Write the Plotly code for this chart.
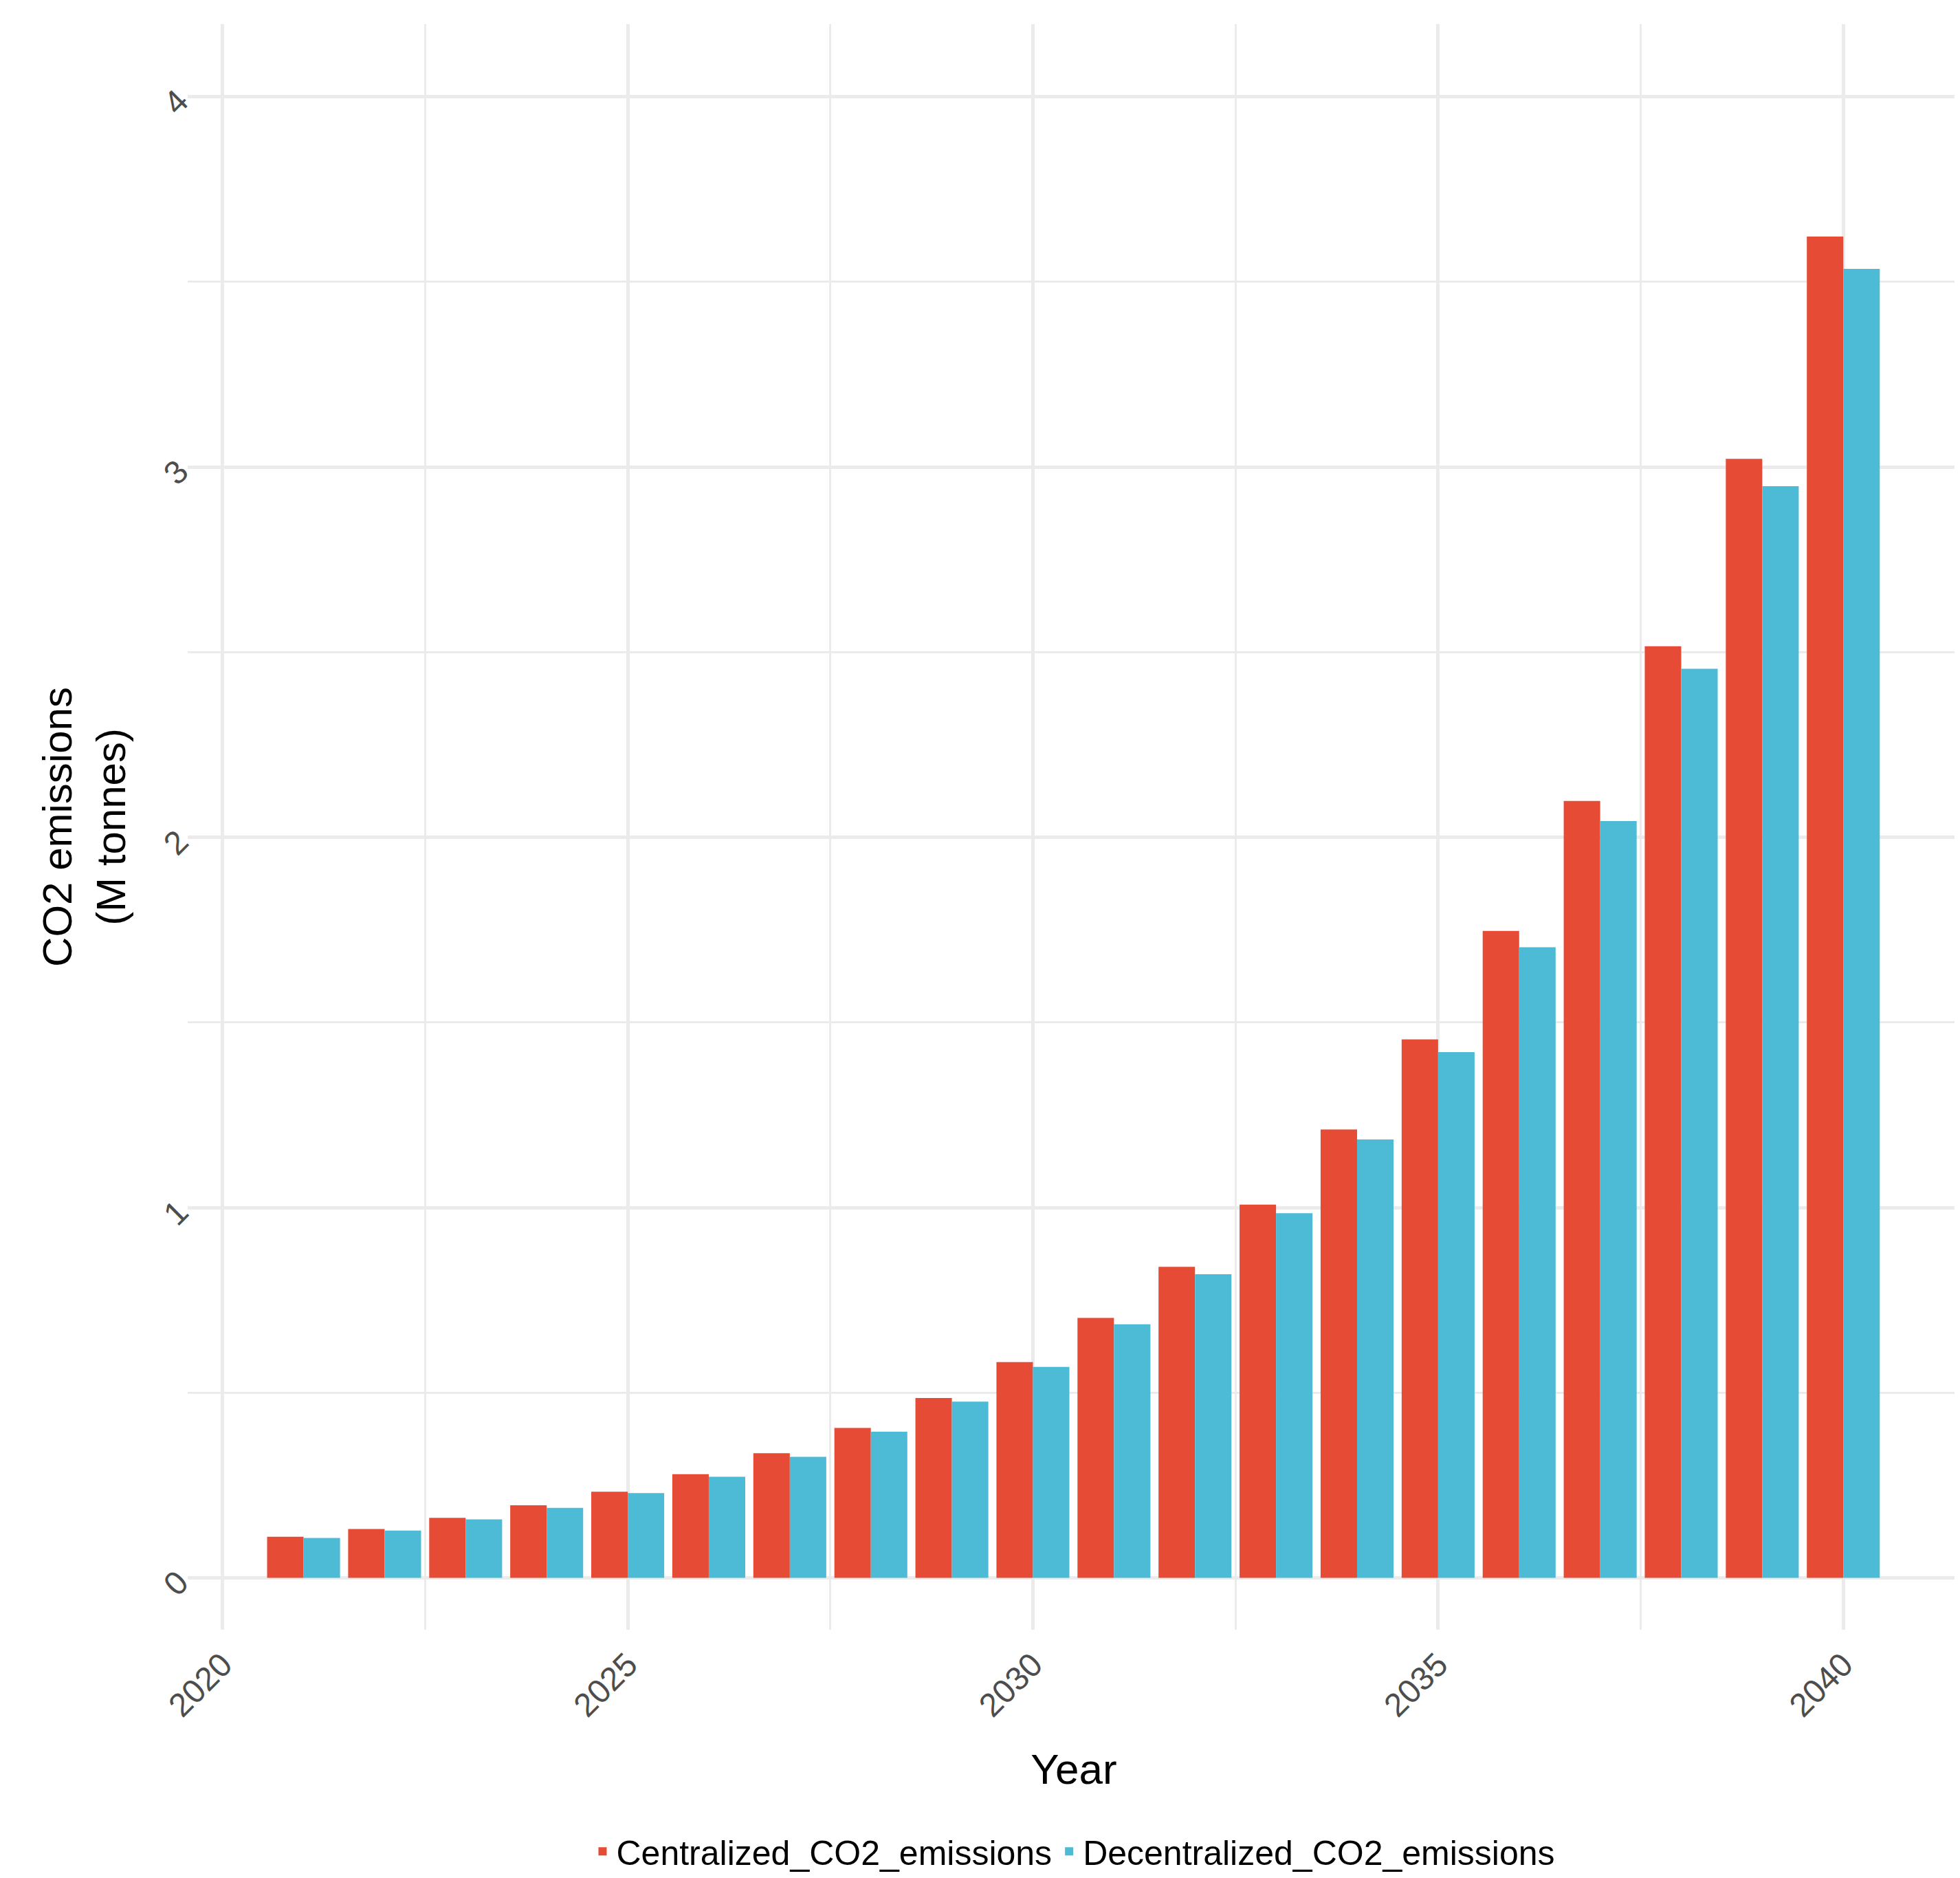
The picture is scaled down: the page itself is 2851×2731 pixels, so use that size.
import plotly.graph_objects as go

years = list(range(2021, 2041))
centralized = [0.111, 0.132, 0.162, 0.196, 0.233, 0.280, 0.337, 0.405, 0.486, 0.583,
               0.702, 0.840, 1.008, 1.211, 1.454, 1.747, 2.098, 2.516, 3.022, 3.622]
decentralized = [0.108, 0.128, 0.158, 0.189, 0.229, 0.273, 0.327, 0.395, 0.476, 0.570,
                 0.685, 0.820, 0.985, 1.184, 1.420, 1.703, 2.044, 2.455, 2.948, 3.535]

fig = go.Figure()
fig.add_trace(go.Bar(x=years, y=centralized, name="Centralized_CO2_emissions",
                     marker=dict(color="#E64B35", line_width=0)))
fig.add_trace(go.Bar(x=years, y=decentralized, name="Decentralized_CO2_emissions",
                     marker=dict(color="#4DBBD5", line_width=0)))

grid = "#EBEBEB"
fig.update_layout(
    width=2851, height=2731,
    barmode="group", bargap=0.1, bargroupgap=0,
    plot_bgcolor="white", paper_bgcolor="white",
    font=dict(family="Liberation Sans, Arial", size=48, color="black"),
    margin=dict(l=265, r=8, t=27, b=195),
    legend=dict(orientation="h", x=0.5, xanchor="center", y=-0.138, yanchor="middle",
                font=dict(size=50)),
    xaxis=dict(range=[2019.57, 2041.44], tickvals=[2020, 2025, 2030, 2035, 2040],
               tickangle=-45, tickfont=dict(size=48, color="#4D4D4D"),
               ticklabelstandoff=12,
               showgrid=True, gridcolor=grid, gridwidth=5, zeroline=False,
               minor=dict(tickvals=[2022.5, 2027.5, 2032.5, 2037.5], showgrid=True,
                          gridcolor=grid, gridwidth=3),
               title=dict(text="Year", font=dict(size=62), standoff=45)),
    yaxis=dict(range=[-0.14, 4.196], tickvals=[0, 1, 2, 3, 4],
               tickangle=-45, tickfont=dict(size=48, color="#4D4D4D"),
               ticklabelstandoff=12,
               showgrid=True, gridcolor=grid, gridwidth=5, zeroline=False,
               minor=dict(tickvals=[0.5, 1.5, 2.5, 3.5], showgrid=True,
                          gridcolor=grid, gridwidth=3),
               title=dict(text="CO2 emissions<br>(M tonnes)", font=dict(size=60), standoff=25)),
)

fig.write_html("out.html")
